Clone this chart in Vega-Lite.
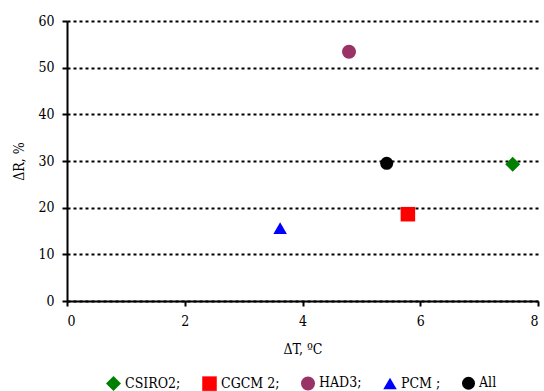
{
  "$schema": "https://vega.github.io/schema/vega-lite/v6.json",
  "autosize": "none",
  "width": 471,
  "height": 280,
  "padding": {"left": 67, "top": 21, "right": 6, "bottom": 90},
  "background": "white",
  "config": {
    "font": "DejaVu Serif Condensed",
    "view": {"stroke": null},
    "axis": {
      "labelFont": "DejaVu Serif Condensed",
      "titleFont": "DejaVu Serif Condensed",
      "labelFontSize": 14,
      "titleFontSize": 14,
      "titleFontWeight": "normal",
      "labelColor": "black",
      "titleColor": "black",
      "domainColor": "black",
      "domainWidth": 2,
      "tickColor": "black",
      "tickWidth": 2,
      "tickSize": 5
    },
    "legend": {
      "labelFont": "DejaVu Serif Condensed",
      "labelFontSize": 14,
      "labelColor": "black"
    }
  },
  "data": {
    "values": [
      {"model": "CSIRO2;", "dT": 7.57, "dR": 29.3},
      {"model": "CGCM 2;", "dT": 5.79, "dR": 18.6},
      {"model": "HAD3;", "dT": 4.79, "dR": 53.4},
      {"model": "PCM ;", "dT": 3.62, "dR": 15.6},
      {"model": "All", "dT": 5.43, "dR": 29.5}
    ]
  },
  "mark": {"type": "point", "filled": true, "opacity": 1},
  "encoding": {
    "x": {
      "field": "dT",
      "type": "quantitative",
      "scale": {"domain": [0, 8], "nice": false},
      "axis": {"values": [0, 2, 4, 6, 8], "grid": false, "title": "ΔT, ºC", "titlePadding": 14, "labelPadding": 8}
    },
    "y": {
      "field": "dR",
      "type": "quantitative",
      "scale": {"domain": [0, 60], "nice": false},
      "axis": {
        "values": [0, 10, 20, 30, 40, 50, 60],
        "grid": true,
        "gridColor": "black",
        "gridWidth": 2,
        "gridDash": [3, 3],
        "gridOpacity": 1,
        "title": "ΔR, %",
        "titlePadding": 11,
        "labelPadding": 8
      }
    },
    "color": {
      "field": "model",
      "type": "nominal",
      "scale": {
        "domain": ["CSIRO2;", "CGCM 2;", "HAD3;", "PCM ;", "All"],
        "range": ["#008000", "#FF0000", "#993366", "#0000FF", "#000000"]
      },
      "legend": {
        "orient": "none",
        "direction": "horizontal",
        "legendX": 38,
        "legendY": 354,
        "title": null,
        "symbolSize": 90,
        "columnPadding": 20,
        "labelOffset": 3
      }
    },
    "shape": {
      "field": "model",
      "type": "nominal",
      "scale": {
        "domain": ["CSIRO2;", "CGCM 2;", "HAD3;", "PCM ;", "All"],
        "range": ["diamond", "square", "circle", "triangle-up", "circle"]
      },
      "legend": null
    },
    "size": {
      "field": "model",
      "type": "ordinal",
      "scale": {
        "domain": ["CSIRO2;", "CGCM 2;", "HAD3;", "PCM ;", "All"],
        "range": [225, 169, 160, 170, 160]
      },
      "legend": null
    }
  }
}
